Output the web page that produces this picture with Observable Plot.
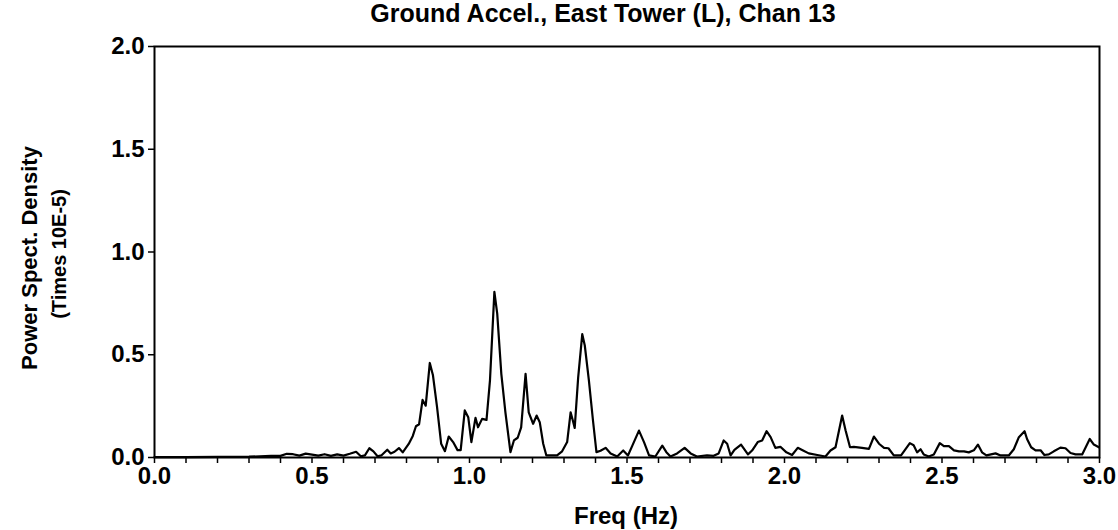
<!DOCTYPE html>
<html>
<head>
<meta charset="utf-8">
<script src="https://cdn.jsdelivr.net/npm/d3@7"></script>
<script src="https://cdn.jsdelivr.net/npm/@observablehq/plot@0.6"></script>
<style>
  html, body { margin: 0; padding: 0; background: #fff; }
</style>
</head>
<body>
<div id="chart"></div>
<script>
const title = "Ground Accel., East Tower (L), Chan 13";
const yLabel1 = "Power Spect. Density";
const yLabel2 = "(Times 10E-5)";
const xLabel = "Freq (Hz)";

const xTicks = [0.0,0.1,0.2,0.3,0.4,0.5,0.6,0.7,0.8,0.9,1.0,1.1,1.2,1.3,1.4,1.5,1.6,1.7,1.8,1.9,2.0,2.1,2.2,2.3,2.4,2.5,2.6,2.7,2.8,2.9,3.0];
const xTickLabels = ["0.0","0.5","1.0","1.5","2.0","2.5","3.0"];
const yTicks = [0.0, 0.5, 1.0, 1.5, 2.0];

const freq = [0.00,0.10,0.20,0.30,0.37,0.40,0.42,0.44,0.46,0.48,0.50,0.52,0.54,0.56,0.58,0.60,0.62,0.64,0.655,0.668,
0.682,0.695,0.708,0.720,0.739,0.750,0.762,0.776,0.788,0.807,0.820,0.830,0.840,0.851,0.861,0.874,0.884,0.897,0.910,0.922,
0.934,0.948,0.962,0.972,0.985,0.996,1.006,1.019,1.027,1.040,1.054,1.065,1.079,1.088,1.101,1.114,1.130,1.141,1.153,1.164,
1.178,1.188,1.202,1.213,1.223,1.234,1.244,1.257,1.278,1.294,1.310,1.321,1.328,1.334,1.345,1.358,1.366,1.379,1.392,1.403,
1.416,1.432,1.448,1.469,1.488,1.503,1.517,1.538,1.554,1.570,1.590,1.612,1.625,1.638,1.659,1.683,1.702,1.722,1.754,1.775,
1.791,1.807,1.818,1.829,1.841,1.862,1.884,1.897,1.915,1.929,1.943,1.956,1.971,1.987,2.006,2.024,2.042,2.059,2.077,2.104,
2.130,2.146,2.162,2.183,2.194,2.208,2.220,2.246,2.268,2.284,2.300,2.316,2.330,2.347,2.370,2.398,2.410,2.421,2.432,2.442,
2.458,2.474,2.493,2.506,2.522,2.538,2.554,2.570,2.585,2.601,2.614,2.627,2.641,2.670,2.686,2.712,2.728,2.744,2.762,2.770,
2.783,2.797,2.813,2.825,2.839,2.855,2.876,2.892,2.908,2.924,2.945,2.969,2.982,2.998];

const psd = [0.002,0.002,0.003,0.004,0.008,0.008,0.018,0.016,0.009,0.019,0.014,0.009,0.016,0.008,0.015,0.009,0.018,0.028,0.006,0.010,
0.045,0.030,0.006,0.010,0.038,0.020,0.028,0.046,0.025,0.066,0.105,0.152,0.162,0.280,0.252,0.460,0.400,0.245,0.067,0.031,
0.102,0.075,0.036,0.036,0.229,0.196,0.075,0.193,0.147,0.188,0.183,0.375,0.806,0.700,0.407,0.220,0.026,0.083,0.096,0.147,
0.407,0.220,0.164,0.204,0.172,0.067,0.010,0.010,0.010,0.030,0.075,0.220,0.180,0.144,0.390,0.600,0.545,0.375,0.180,0.026,
0.033,0.047,0.020,0.005,0.034,0.010,0.058,0.131,0.075,0.010,0.005,0.058,0.026,0.005,0.020,0.047,0.020,0.005,0.010,0.008,
0.020,0.083,0.067,0.010,0.037,0.063,0.015,0.034,0.075,0.083,0.128,0.099,0.047,0.052,0.025,0.012,0.047,0.034,0.020,0.012,
0.005,0.034,0.050,0.204,0.131,0.050,0.052,0.047,0.042,0.102,0.067,0.047,0.045,0.010,0.010,0.070,0.060,0.025,0.040,0.015,
0.005,0.015,0.070,0.055,0.055,0.035,0.030,0.030,0.025,0.035,0.063,0.025,0.010,0.020,0.010,0.010,0.040,0.099,0.128,0.090,
0.050,0.035,0.035,0.012,0.015,0.030,0.048,0.045,0.022,0.015,0.015,0.090,0.063,0.050];

const data = freq.map((f, i) => ({f, p: psd[i]}));
const font = "'Liberation Sans', Arial, Helvetica, sans-serif";

const chart = Plot.plot({
  width: 1118,
  height: 530,
  marginLeft: 154,
  marginRight: 19,
  marginTop: 46,
  marginBottom: 73,
  style: {fontFamily: font, fontWeight: "bold", fontSize: "22px", color: "black", background: "white"},
  x: {domain: [0, 3]},
  y: {domain: [0, 2]},
  marks: [
    Plot.axisX({
      ticks: xTicks,
      tickSize: 6,
      tickPadding: 3,
      strokeWidth: 1.5,
      tickFormat: d => { const s = d.toFixed(1); return xTickLabels.includes(s) ? s : ""; },
      label: null,
      fontSize: 24,
      fontWeight: "bold"
    }),
    Plot.axisY({
      ticks: yTicks,
      tickSize: 6,
      tickPadding: 4,
      strokeWidth: 1.5,
      tickFormat: d => d.toFixed(1),
      label: null,
      fontSize: 24,
      fontWeight: "bold"
    }),
    Plot.frame({stroke: "black", strokeWidth: 2}),
    Plot.line(data, {x: "f", y: "p", stroke: "black", strokeWidth: 2.2, curve: "linear"}),
    Plot.text([title], {frameAnchor: "top", dx: -24, dy: -33, fontSize: 25, fontWeight: "bold", lineAnchor: "middle"}),
    Plot.text([yLabel1], {frameAnchor: "left", dx: -125, dy: 6, rotate: -90, fontSize: 22, fontWeight: "bold", lineAnchor: "middle", textAnchor: "middle"}),
    Plot.text([yLabel2], {frameAnchor: "left", dx: -95, dy: 2, rotate: -90, fontSize: 20, fontWeight: "bold", lineAnchor: "middle", textAnchor: "middle"}),
    Plot.text([xLabel], {frameAnchor: "bottom", dx: -1, dy: 59, fontSize: 24, fontWeight: "bold", lineAnchor: "middle"})
  ]
});
document.getElementById("chart").appendChild(chart);
</script>
</body>
</html>
